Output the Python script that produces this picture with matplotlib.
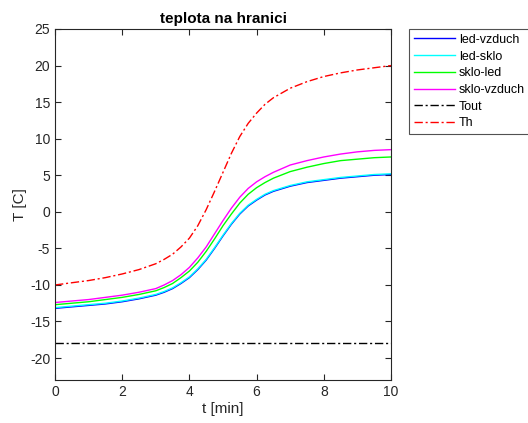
import matplotlib
matplotlib.use("Agg")
import matplotlib.pyplot as plt

plt.rcParams['font.family'] = ['Liberation Sans', 'DejaVu Sans']
plt.rcParams['axes.unicode_minus'] = False

t = [0, 0.01, 0.5, 1, 1.5, 2, 2.5, 3, 3.25, 3.5, 3.75, 4, 4.25, 4.5, 4.75,
     5, 5.25, 5.5, 5.75, 6, 6.25, 6.5, 7, 7.5, 8, 8.5, 9, 9.5, 10]

led_vzduch = [-18, -13.2, -13.0, -12.8, -12.6, -12.3, -11.9, -11.4, -11.0, -10.5,
              -9.8, -9.0, -7.9, -6.6, -5.0, -3.3, -1.7, -0.3, 0.8, 1.6, 2.3, 2.8,
              3.5, 4.0, 4.3, 4.6, 4.8, 5.0, 5.1]
led_sklo = [-15, -13.1, -12.9, -12.7, -12.5, -12.2, -11.8, -11.3, -10.9, -10.4,
            -9.7, -8.9, -7.8, -6.5, -4.9, -3.2, -1.6, -0.2, 0.9, 1.7, 2.4, 2.9,
            3.6, 4.1, 4.4, 4.7, 4.9, 5.1, 5.2]
sklo_led = [-15, -12.7, -12.5, -12.3, -12.0, -11.7, -11.3, -10.8, -10.35, -9.8,
            -9.0, -8.1, -6.9, -5.4, -3.7, -1.9, -0.3, 1.2, 2.4, 3.3, 4.0, 4.6,
            5.5, 6.1, 6.6, 7.0, 7.2, 7.4, 7.5]
sklo_vzduch = [-10, -12.4, -12.2, -12.0, -11.7, -11.4, -11.0, -10.5, -10.0, -9.4,
               -8.6, -7.6, -6.3, -4.8, -3.0, -1.2, 0.5, 2.0, 3.2, 4.1, 4.8, 5.4,
               6.4, 7.0, 7.5, 7.9, 8.2, 8.4, 8.5]
t_out = [0, 10]
Tout = [-18, -18]
Th = [-10, -10, -9.7, -9.4, -9.0, -8.5, -7.9, -7.1, -6.5, -5.8, -4.8, -3.6, -1.9,
      0.3, 2.8, 5.4, 8.0, 10.3, 12.1, 13.5, 14.7, 15.6, 16.9, 17.8, 18.5, 19.0,
      19.4, 19.7, 20.0]

labels = ['led-vzduch', 'led-sklo', 'sklo-led', 'sklo-vzduch', 'Tout', 'Th']

fig = plt.figure(figsize=(5.28, 4.23), dpi=100)
ax = fig.add_axes([55/528, 1-380/423, (391-55)/528, (380-29)/423])

dd = (6, 2, 1.5, 2)
ax.plot(t, led_vzduch, color=(0, 0, 1), lw=1.0, label=labels[0])
ax.plot(t, led_sklo, color=(0, 1, 1), lw=1.0, label=labels[1])
ax.plot(t, sklo_led, color=(0, 1, 0), lw=1.0, label=labels[2])
ax.plot(t, sklo_vzduch, color=(1, 0, 1), lw=1.0, label=labels[3])
ax.plot(t_out, Tout, color='black', lw=1.0, dashes=dd, label=labels[4])
ax.plot(t, Th, color=(1, 0, 0), lw=1.0, dashes=dd, label=labels[5])

ax.set_xlim(0, 10)
ax.set_ylim(-23, 25)
ax.set_xticks([0, 2, 4, 6, 8, 10])
ax.set_yticks([-20, -15, -10, -5, 0, 5, 10, 15, 20, 25])
ax.tick_params(direction='in', top=True, right=True, labelsize=10,
               length=4, width=0.8, colors='#262626', labelcolor='#262626')
for s in ax.spines.values():
    s.set_color('#262626')
    s.set_linewidth(0.8)

ax.set_xlabel('t [min]', fontsize=11, color='#262626', labelpad=2)
ax.set_ylabel('T [C]', fontsize=11, color='#262626', labelpad=2)
ax.set_title('teplota na hranici', fontsize=11, fontweight='bold', pad=4)

leg = fig.legend(loc='upper left', bbox_to_anchor=(409/528, 1-29/423),
                 bbox_transform=fig.transFigure, borderaxespad=0,
                 fontsize=9, frameon=True, fancybox=False, handlelength=3.3,
                 handletextpad=0.3, labelspacing=0.38, borderpad=0.38)
leg.get_frame().set_edgecolor('#262626')
leg.get_frame().set_linewidth(0.8)

fig.savefig('out.png', dpi=100)
